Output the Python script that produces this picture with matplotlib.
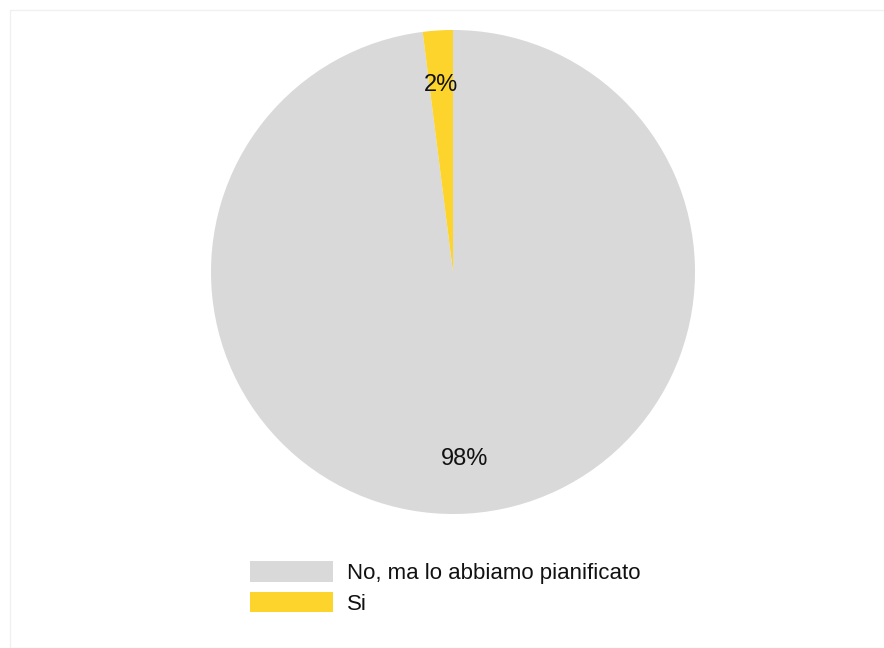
import matplotlib.pyplot as plt
from matplotlib.patches import Rectangle

# answer shares
labels = ["No, ma lo abbiamo pianificato", "Si"]
shares = [98, 2]
colors = ["#d9d9d9", "#fcd42b"]

plt.rcParams["font.family"] = ["Liberation Sans", "DejaVu Sans"]

W, H = 884, 648
fig = plt.figure(figsize=(W / 100, H / 100), dpi=100)

# faint frame around the panel
fig.patches.append(Rectangle((10 / W, 0), 1, 1 - 10 / H, transform=fig.transFigure,
                             fill=False, edgecolor="#f0f0f0", linewidth=1))

cx, cy, r = 453, 272, 242
ax = fig.add_axes([(cx - r) / W, (H - cy - r) / H, 2 * r / W, 2 * r / H])
wedges, _, autotexts = ax.pie(shares, colors=colors, startangle=90, counterclock=False,
                              autopct="%d%%", pctdistance=0.775,
                              wedgeprops=dict(linewidth=0),
                              textprops=dict(fontsize=17, color="#111111"))
ax.set_xlim(-1, 1)
ax.set_ylim(-1, 1)
ax.set_aspect("equal")

fig.legend(wedges, labels, loc="upper left", bbox_to_anchor=(230 / W, 1 - 541 / H),
           frameon=False, fontsize=16, handlelength=3.74, handleheight=1.05,
           handletextpad=0.63, labelspacing=0.35, labelcolor="#111111")

fig.savefig("out.png", dpi=100)
